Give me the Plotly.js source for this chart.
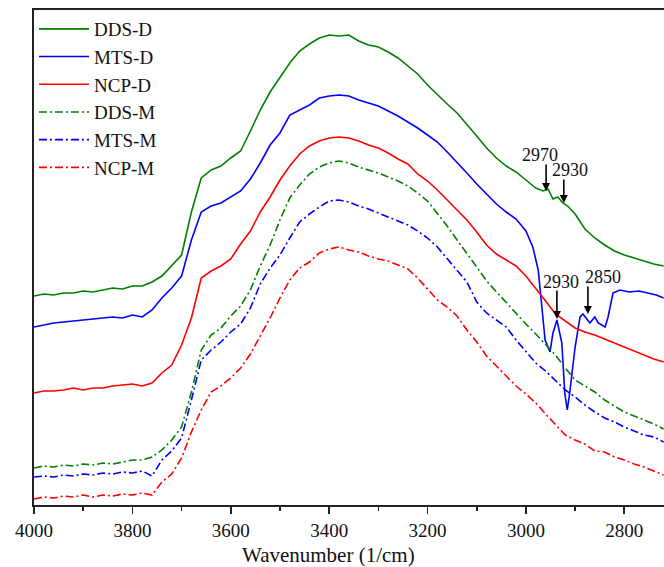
<!DOCTYPE html>
<html>
<head>
<meta charset="utf-8">
<script src="https://cdn.plot.ly/plotly-3.0.1.min.js"></script>
<style>html,body{margin:0;padding:0;background:#fff;}#chart{width:664px;height:567px;}</style>
</head>
<body>
<div id="chart"></div>
<script>
// Wavenumber grid (1/cm)
const wnGrid = [4000,3980,3960,3940,3920,3900,3880,3860,3840,3820,3800,3780,3760,3740,3720,3700,3680,3660,3640,3620,3600,3580,3560,3540,3520,3500,3480,3460,3440,3420,3400,3380,3360,3340,3320,3300,3280,3260,3240,3220,3200,3180,3160,3140,3120,3100,3080,3060,3040,3020,3000,2980,2960,2940,2920,2900,2880,2860,2840,2820,2800,2780,2760,2740,2720];

// DDS-D (own x grid with detail around 2970/2930)
const wnDDSD = [4000,3980,3960,3940,3920,3900,3880,3860,3840,3820,3800,3780,3760,3740,3720,3700,3680,3660,3640,3620,3600,3580,3560,3540,3520,3500,3480,3460,3440,3420,3400,3380,3360,3340,3320,3300,3280,3260,3240,3220,3200,3180,3160,3140,3120,3100,3080,3060,3040,3020,3000,2980,2965,2955,2945,2935,2925,2915,2900,2880,2860,2840,2820,2800,2780,2760,2740,2720];
const ddsD = [2.09,2.11,2.10,2.12,2.12,2.14,2.13,2.15,2.17,2.16,
  2.19,2.19,2.23,2.29,2.39,2.50,2.93,3.27,3.35,3.39,
  3.47,3.54,3.74,3.95,4.13,4.28,4.42,4.54,4.61,4.67,
  4.70,4.69,4.70,4.64,4.60,4.58,4.53,4.47,4.39,4.31,
  4.20,4.10,4.01,3.92,3.81,3.69,3.57,3.47,3.39,3.33,
  3.25,3.17,
  3.14,3.16,3.06,3.08,3.02,2.99,2.91,2.76,2.67,2.60,2.54,2.50,2.47,2.44,2.41,2.39];

// MTS-D (own x grid with detail in the C-H region)
const wnMTSD = [4000,3980,3960,3940,3920,3900,3880,3860,3840,3820,3800,3780,3760,3740,3720,3700,3680,3660,3640,3620,3600,3580,3560,3540,3520,3500,3480,3460,3440,3420,3400,3380,3360,3340,3320,3300,3280,3260,3240,3220,3200,3180,3160,3140,3120,3100,3080,3060,3040,3020,3000,
  2986,2975,2967,2961,2951,2945,2937,2927,2921,2916,2911,2900,2890,2884,2870,2860,2853,2839,2833,2823,2809,2790,2770,2754,2735,2720];
const mtsD = [1.78,1.80,1.82,1.83,1.84,1.85,1.86,1.87,1.88,1.87,
  1.90,1.88,1.95,2.07,2.17,2.29,2.65,2.93,2.99,3.02,
  3.08,3.14,3.26,3.42,3.60,3.72,3.90,3.95,4.00,4.07,
  4.09,4.10,4.09,4.05,4.02,3.99,3.94,3.89,3.83,3.77,
  3.70,3.63,3.53,3.43,3.32,3.21,3.11,3.01,2.93,2.86,
  2.74,
  2.58,2.35,1.98,1.65,1.53,1.72,1.85,1.62,1.12,0.95,1.12,1.58,1.88,1.91,1.82,1.88,1.82,1.78,1.88,2.12,2.15,2.13,2.14,2.12,2.10,2.07];

const ncpD = [1.12,1.14,1.14,1.15,1.17,1.15,1.17,1.17,1.19,1.20,
  1.21,1.19,1.22,1.32,1.40,1.60,1.87,2.27,2.34,2.39,
  2.46,2.61,2.74,2.93,3.08,3.25,3.39,3.51,3.59,3.64,
  3.67,3.68,3.67,3.64,3.60,3.57,3.52,3.46,3.41,3.31,
  3.24,3.15,3.05,2.95,2.85,2.73,2.60,2.51,2.45,2.39,
  2.29,2.17,2.04,1.91,1.84,1.77,1.73,1.70,1.66,1.62,
  1.58,1.54,1.50,1.46,1.43];

const ddsM = [0.37,0.39,0.38,0.40,0.39,0.41,0.40,0.42,0.41,0.43,
  0.45,0.45,0.48,0.55,0.65,0.78,1.13,1.55,1.70,1.77,
  1.89,1.99,2.15,2.39,2.60,2.85,3.07,3.20,3.31,3.38,
  3.42,3.44,3.42,3.38,3.35,3.32,3.28,3.24,3.19,3.12,
  3.04,2.92,2.79,2.65,2.52,2.38,2.24,2.13,2.02,1.92,
  1.81,1.71,1.60,1.50,1.37,1.25,1.19,1.13,1.05,0.99,
  0.93,0.89,0.85,0.81,0.76];

const mtsM = [0.28,0.29,0.28,0.30,0.29,0.31,0.30,0.32,0.31,0.33,
  0.32,0.34,0.29,0.45,0.54,0.67,1.05,1.45,1.55,1.63,
  1.73,1.81,1.97,2.21,2.37,2.50,2.67,2.83,2.91,2.98,
  3.04,3.05,3.03,2.99,2.96,2.92,2.88,2.84,2.80,2.74,
  2.67,2.58,2.46,2.35,2.23,2.03,1.92,1.85,1.78,1.65,
  1.54,1.42,1.34,1.24,1.15,1.08,1.00,0.93,0.87,0.83,
  0.78,0.74,0.70,0.68,0.63];

const ncpM = [0.06,0.08,0.07,0.09,0.08,0.10,0.08,0.10,0.09,0.11,
  0.10,0.12,0.10,0.23,0.31,0.47,0.73,0.95,1.13,1.19,
  1.27,1.37,1.51,1.69,1.87,2.07,2.25,2.37,2.43,2.52,
  2.56,2.58,2.55,2.53,2.49,2.46,2.44,2.40,2.36,2.27,
  2.16,2.05,1.98,1.89,1.75,1.63,1.49,1.39,1.29,1.19,
  1.11,1.02,0.91,0.80,0.70,0.65,0.61,0.54,0.53,0.48,
  0.45,0.41,0.38,0.34,0.30];

const seriesNames = ['DDS-D','MTS-D','NCP-D','DDS-M','MTS-M','NCP-M'];

// Peak labels: [label, tip wavenumber, tip value, label wavenumber, label value, arrow length px]
const peakLabels = [
  ['2970', 2959, 3.14, 2971, 3.50, 28],
  ['2930', 2923, 3.02, 2910, 3.35, 25],
  ['2930', 2937, 1.86, 2929, 2.23, 30],
  ['2850', 2874, 1.91, 2843, 2.28, 29]
];

const FONT = 'Liberation Serif, Times New Roman, serif';
const GREEN = '#008000', BLUE = '#0000ff', RED = '#ff0000';
const DASHDOT = '8px,3px,2px,3px';
const LW = 1.6;

function tr(name, x, y, color, dash) {
  return {x: x, y: y, name: name, type: 'scatter', mode: 'lines', legendgroup: name,
    line: {color: color, width: LW, dash: dash}};
}

const data = [
  tr(seriesNames[0], wnDDSD, ddsD, GREEN, 'solid'),
  tr(seriesNames[1], wnMTSD, mtsD, BLUE, 'solid'),
  tr(seriesNames[2], wnGrid, ncpD, RED, 'solid'),
  tr(seriesNames[3], wnGrid, ddsM, GREEN, DASHDOT),
  tr(seriesNames[4], wnGrid, mtsM, BLUE, DASHDOT),
  tr(seriesNames[5], wnGrid, ncpM, RED, DASHDOT)
];

const annotations = [];
peakLabels.forEach(p => {
  annotations.push({x: p[1], y: p[2], xref: 'x', yref: 'y', text: '', showarrow: true,
    ax: 0, ay: -p[5], arrowhead: 2, arrowsize: 1, arrowwidth: 1.6, arrowcolor: '#000', standoff: 0});
  annotations.push({x: p[3], y: p[4], xref: 'x', yref: 'y', text: p[0], showarrow: false,
    font: {family: FONT, size: 18, color: '#111'}});
});
annotations.push({x: 0.468, y: -0.1015, xref: 'paper', yref: 'paper', text: 'Wavenumber (1/cm)',
  showarrow: false, xanchor: 'center', yanchor: 'middle', font: {family: FONT, size: 21, color: '#111'}});

const layout = {
  width: 664, height: 567,
  margin: {l: 34, r: 0, t: 10, b: 62},
  paper_bgcolor: '#fff', plot_bgcolor: '#fff',
  showlegend: true,
  legend: {x: 0, y: 1, xanchor: 'left', yanchor: 'top', bgcolor: 'rgba(0,0,0,0)',
    font: {family: FONT, size: 19, color: '#111'}, traceorder: 'grouped', tracegroupgap: 0,
    itemwidth: 50},
  xaxis: {range: [4000, 2719.3], showgrid: false, zeroline: false,
    showline: true, linecolor: '#222', linewidth: 2, mirror: true,
    ticks: 'outside', ticklen: 7, tickwidth: 1.6, tickcolor: '#222', dtick: 200, tick0: 4000,
    minor: {dtick: 100, ticks: 'outside', ticklen: 4, tickwidth: 1.6, tickcolor: '#222'},
    tickfont: {family: FONT, size: 19, color: '#111'}, ticklabelstandoff: 0},
  yaxis: {range: [0, 4.95], showgrid: false, zeroline: false, showticklabels: false,
    showline: true, linecolor: '#222', linewidth: 2, ticks: ''},
  annotations: annotations
};

Plotly.newPlot('chart', data, layout, {displayModeBar: false, staticPlot: true});
</script>
</body>
</html>
